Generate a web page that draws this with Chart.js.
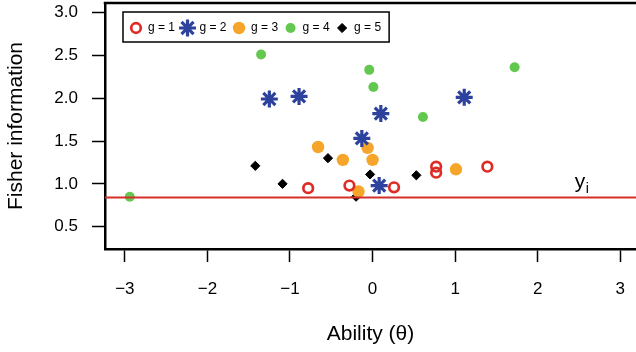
<!DOCTYPE html>
<html>
<head>
<meta charset="utf-8">
<script src="https://cdn.jsdelivr.net/npm/chart.js@4.4.1/dist/chart.umd.min.js"></script>
<style>
  body { margin: 0; background: #fff; }
  canvas { display: block; }
</style>
</head>
<body>
<canvas id="fisherChart" width="636" height="352"></canvas>
<script>
// Data
const groupLabels = ['g = 1', 'g = 2', 'g = 3', 'g = 4', 'g = 5'];

const g1Ability = [-0.78, -0.28, 0.26, 0.77, 0.77, 1.39];
const g1Info    = [0.95, 0.98, 0.96, 1.20, 1.13, 1.20];

const g2Ability = [-1.25, -0.89, -0.13, 0.10, 0.08, 1.11];
const g2Info    = [1.99, 2.02, 1.53, 1.82, 0.98, 2.01];

const g3Ability = [-0.66, -0.36, -0.06, 0.00, -0.17, 1.01];
const g3Info    = [1.43, 1.28, 1.42, 1.28, 0.91, 1.17];

const g4Ability = [-2.94, -1.35, -0.04, 0.01, 0.61, 1.72];
const g4Info    = [0.85, 2.51, 2.33, 2.13, 1.78, 2.36];

const g5Ability = [-1.42, -1.09, -0.54, -0.20, -0.03, 0.53];
const g5Info    = [1.21, 1.00, 1.30, 0.85, 1.11, 1.10];

const yiLevel = 0.84;

const xTicks = [-3, -2, -1, 0, 1, 2, 3];
const xTickLabels = ['\u22123', '\u22122', '\u22121', '0', '1', '2', '3'];
const yTicks = [0.5, 1.0, 1.5, 2.0, 2.5, 3.0];
const yTickLabels = ['0.5', '1.0', '1.5', '2.0', '2.5', '3.0'];

const FONT = "'Liberation Sans', Arial, Helvetica, sans-serif";

function toPoints(xs, ys) {
    return xs.map((x, i) => ({ x: x, y: ys[i] }));
}

// horizontal y_i line with its label
const yiLinePlugin = {
    id: 'yiLine',
    afterDatasetsDraw(chart) {
        const { ctx, chartArea, scales } = chart;
        const yPix = scales.y.getPixelForValue(yiLevel);
        ctx.save();
        ctx.strokeStyle = '#d3302c';
        ctx.lineWidth = 2;
        ctx.beginPath();
        ctx.moveTo(chartArea.left, yPix);
        ctx.lineTo(chartArea.right, yPix);
        ctx.stroke();

        const xPix = scales.x.getPixelForValue(2.51);
        ctx.fillStyle = '#000';
        ctx.textBaseline = 'alphabetic';
        ctx.textAlign = 'left';
        ctx.font = '21px ' + FONT;
        ctx.fillText('y', xPix - 5, yPix - 10);
        const w = ctx.measureText('y').width;
        ctx.font = '14px ' + FONT;
        ctx.fillText('i', xPix - 5 + w + 0.5, yPix - 4.5);
        ctx.restore();
    }
};

// top frame line and boxed legend
const frameLegendPlugin = {
    id: 'frameLegend',
    afterDraw(chart) {
        const { ctx, chartArea } = chart;
        ctx.save();
        ctx.fillStyle = '#000';
        ctx.fillRect(chartArea.left - 1.25, chartArea.top - 1.25,
            chartArea.right - chartArea.left + 1.25, 2.5);

        const top = 12, bottom = 42, left = 123;
        const midY = (top + bottom) / 2 + 1;
        ctx.font = '12px ' + FONT;
        ctx.textBaseline = 'middle';
        ctx.textAlign = 'left';
        let x = left + 13;
        chart.data.datasets.forEach(ds => {
            ctx.fillStyle = ds.backgroundColor;
            ctx.strokeStyle = ds.borderColor;
            ctx.lineWidth = ds.borderWidth;
            Chart.helpers.drawPoint(ctx, {
                pointStyle: ds.pointStyle,
                radius: ds.pointRadius,
                rotation: 0,
                borderWidth: ds.borderWidth
            }, x, midY);
            ctx.fillStyle = '#000';
            ctx.fillText(ds.label, x + 12, midY);
            x = x + 12 + ctx.measureText(ds.label).width + 12.5;
        });
        const right = x - 12.5 + 8;
        ctx.strokeStyle = '#000';
        ctx.lineWidth = 1.5;
        ctx.strokeRect(left, top, right - left, bottom - top);
        ctx.restore();
    }
};

function noEdgePadding(s) {
    s.paddingTop = 0;
    s.paddingBottom = 0;
    s.paddingLeft = 0;
    s.paddingRight = 0;
}

const ctx = document.getElementById('fisherChart').getContext('2d');
const fisherChart = new Chart(ctx, {
    type: 'scatter',
    data: {
        datasets: [
            {
                label: groupLabels[0],
                data: toPoints(g1Ability, g1Info),
                pointStyle: 'circle',
                pointRadius: 4.8,
                borderWidth: 2.7,
                borderColor: '#de2b25',
                backgroundColor: 'rgba(0,0,0,0)'
            },
            {
                label: groupLabels[1],
                data: toPoints(g2Ability, g2Info),
                pointStyle: 'star',
                pointRadius: 8.5,
                borderWidth: 3.2,
                borderColor: '#2d429c',
                backgroundColor: '#2d429c'
            },
            {
                label: groupLabels[2],
                data: toPoints(g3Ability, g3Info),
                pointStyle: 'circle',
                pointRadius: 6.2,
                borderWidth: 0,
                borderColor: '#f4a52a',
                backgroundColor: '#f4a52a'
            },
            {
                label: groupLabels[3],
                data: toPoints(g4Ability, g4Info),
                pointStyle: 'circle',
                pointRadius: 5,
                borderWidth: 0,
                borderColor: '#63c850',
                backgroundColor: '#63c850'
            },
            {
                label: groupLabels[4],
                data: toPoints(g5Ability, g5Info),
                pointStyle: 'rectRot',
                pointRadius: 4.6,
                borderWidth: 1,
                borderColor: '#000',
                backgroundColor: '#000'
            }
        ]
    },
    options: {
        responsive: false,
        animation: false,
        layout: { autoPadding: false, padding: { top: 3, right: 0, bottom: 0, left: 0 } },
        plugins: {
            legend: { display: false },
            tooltip: { enabled: false }
        },
        elements: { point: { hoverRadius: 0 } },
        scales: {
            x: {
                type: 'linear',
                position: 'bottom',
                min: -3.24,
                max: 3.19,
                afterBuildTicks: s => { s.ticks = xTicks.map(v => ({ value: v })); },
                afterFit: s => { s.height = 103; noEdgePadding(s); },
                grid: {
                    drawOnChartArea: false,
                    drawTicks: true,
                    tickLength: 13,
                    tickWidth: 1.5,
                    tickColor: '#000'
                },
                border: { display: true, color: '#000', width: 2.5 },
                ticks: {
                    padding: 17,
                    color: '#000',
                    font: { family: FONT, size: 17 },
                    maxRotation: 0,
                    callback: (v, i) => xTickLabels[i]
                },
                title: {
                    display: true,
                    text: 'Ability (\u03b8)',
                    color: '#000',
                    font: { family: FONT, size: 21 },
                    padding: { top: 0, bottom: 5 }
                }
            },
            y: {
                type: 'linear',
                min: 0.24,
                max: 3.11,
                afterBuildTicks: s => { s.ticks = yTicks.map(v => ({ value: v })); },
                afterFit: s => { s.width = 105; noEdgePadding(s); },
                grid: {
                    drawOnChartArea: false,
                    drawTicks: true,
                    tickLength: 13,
                    tickWidth: 1.5,
                    tickColor: '#000'
                },
                border: { display: true, color: '#000', width: 2.5 },
                ticks: {
                    padding: 14,
                    color: '#000',
                    font: { family: FONT, size: 17 },
                    callback: (v, i) => yTickLabels[i]
                },
                title: {
                    display: true,
                    text: 'Fisher information',
                    color: '#000',
                    font: { family: FONT, size: 21 },
                    padding: { top: 4, bottom: 0 }
                }
            }
        }
    },
    plugins: [yiLinePlugin, frameLegendPlugin]
});
</script>
</body>
</html>
